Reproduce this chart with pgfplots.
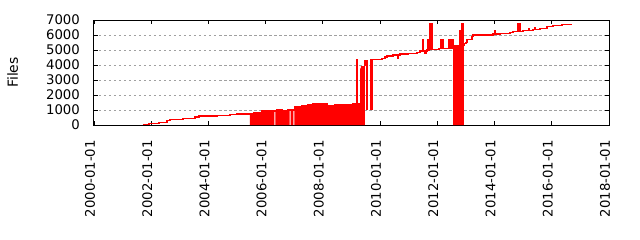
\documentclass[border=0pt]{standalone}
\usepackage{fontspec}
\setmainfont{DejaVu Sans}
\usepackage{pgfplots}
\pgfplotsset{compat=1.18}
\definecolor{gridc}{RGB}{160,160,160}
\begin{document}
\begin{tikzpicture}
\path[use as bounding box] (-94bp,-115bp) rectangle (546bp,125bp);
\begin{axis}[
  at={(0,0)}, anchor=south west,
  scale only axis, width=515bp, height=105bp,
  xmin=2000, xmax=2018, ymin=0, ymax=7000,
  xtick={2000,2002,...,2018},
  xticklabels={2000-01-01,2002-01-01,2004-01-01,2006-01-01,2008-01-01,2010-01-01,2012-01-01,2014-01-01,2016-01-01,2018-01-01},
  minor x tick num=7,
  ytick={0,1000,...,7000},
  /pgf/number format/1000 sep={},
  /pgf/number format/assume math mode=true,
  tick align=inside, tick pos=both,
  major tick length=4bp, minor tick length=2bp,
  every tick/.style={black, line width=0.8bp},
  axis line style={black, line width=1bp},
  ymajorgrids,
  major grid style={gridc, line width=0.8bp, dash pattern=on 2.5bp off 2.5bp},
  xticklabel style={font=\fontsize{13.3}{15}\selectfont, xshift=-4bp, yshift=-15bp, rotate=90, anchor=east, inner sep=0pt},
  yticklabel style={font=\fontsize{13.3}{15}\selectfont, anchor=east, inner sep=0pt, xshift=-14bp},
  ylabel={Files},
  ylabel style={font=\fontsize{14}{16}\selectfont, at={(axis description cs:-0.158,0.5)}, anchor=center},
]
% filled block 2005-2009
\addplot[const plot, fill=red, draw=none] coordinates {
(2005.45,780)(2005.59,830)(2005.87,930)(2006.30,0)(2006.335,930)(2006.40,1000)(2006.57,930)(2006.78,1000)(2006.84,0)(2006.875,1000)(2006.97,0)(2007.005,1200)(2007.27,1290)(2007.48,1330)(2007.65,1400)(2008.14,1270)(2008.42,1330)(2008.88,1380)(2009.05,1420)(2009.30,3780)(2009.33,3930)(2009.47,0)
} \closedcycle;
% main line, first part
\addplot[const plot, red, line width=1.5bp] coordinates {
(2001.71,50)(2001.92,110)(2002.27,180)(2002.55,290)(2002.66,380)(2003.11,450)(2003.53,530)(2003.67,600)(2004.30,650)(2004.75,690)(2005.00,730)(2005.45,780)(2005.59,830)(2005.87,930)(2006.40,1000)(2006.57,930)(2006.78,1000)(2007.00,1200)(2007.27,1290)(2007.48,1330)(2007.65,1400)(2008.14,1270)(2008.42,1330)(2008.88,1380)(2009.05,1420)(2009.18,4380)(2009.20,1420)(2009.30,1420)
};
% impulses near 2009.5
\addplot[red, line width=1.5bp] coordinates {(2009.47,3930)(2009.47,4290)(2009.54,4290)(2009.54,1000)};
\addplot[fill=red, draw=none] coordinates {(2009.65,1000)(2009.65,4380)(2009.75,4380)(2009.75,1000)} -- cycle;
% block 2011.7
\addplot[fill=red, draw=none] coordinates {(2011.64,4930)(2011.64,5710)(2011.74,5710)(2011.74,4930)} -- cycle;
% filled block 2012.6
\addplot[const plot, fill=red, draw=none] coordinates {
(2012.55,5290)(2012.79,6270)(2012.83,6730)(2012.90,5330)(2012.93,0)
} \closedcycle;
% main line, second part
\addplot[const plot, red, line width=1.5bp] coordinates {
(2009.75,4380)(2010.07,4450)(2010.17,4550)(2010.24,4600)(2010.45,4670)(2010.62,4470)(2010.65,4670)(2010.70,4730)(2010.97,4780)(2011.29,4850)(2011.39,4930)(2011.50,5710)(2011.52,4930)(2011.57,4780)(2011.62,4930)(2011.64,5050)(2011.74,6730)(2011.76,5050)(2011.81,6730)(2011.83,5050)(2012.05,5110)(2012.13,5710)(2012.15,5110)(2012.20,5710)(2012.22,5110)(2012.41,5710)(2012.43,5110)(2012.48,5710)(2012.50,5110)(2012.51,5710)(2012.55,5290)(2012.79,6270)(2012.84,6730)(2012.90,5330)(2012.95,5420)(2013.00,5510)(2013.04,5710)(2013.21,5910)(2013.25,6000)(2013.95,6070)(2014.00,6270)(2014.02,6070)(2014.19,6110)(2014.54,6180)(2014.64,6220)(2014.82,6730)(2014.89,6220)(2014.99,6290)(2015.20,6450)(2015.22,6290)(2015.34,6380)(2015.40,6500)(2015.42,6380)(2015.59,6440)(2015.83,6560)(2016.04,6620)(2016.36,6710)(2016.71,6710)
};
\end{axis}
\end{tikzpicture}
\end{document}
